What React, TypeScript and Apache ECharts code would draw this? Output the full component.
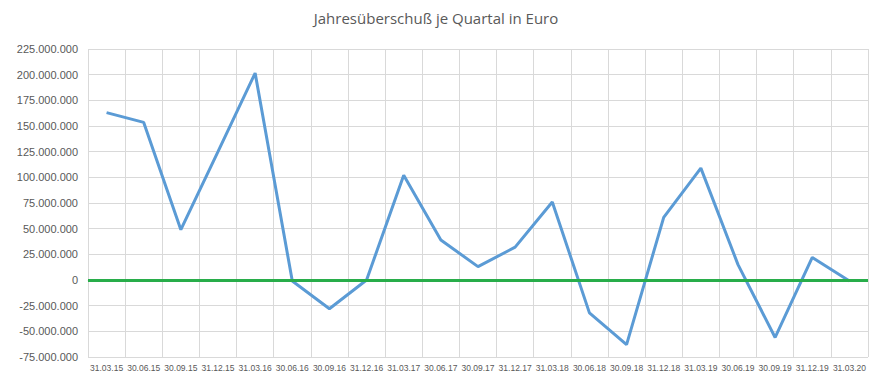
import React, { useEffect, useRef } from "react";
import * as echarts from "echarts";

const title = "Jahresüberschuß je Quartal in Euro";

const categories = [
  "31.03.15", "30.06.15", "30.09.15", "31.12.15", "31.03.16", "30.06.16", "30.09.16",
  "31.12.16", "31.03.17", "30.06.17", "30.09.17", "31.12.17", "31.03.18", "30.06.18",
  "30.09.18", "31.12.18", "31.03.19", "30.06.19", "30.09.19", "31.12.19", "31.03.20",
];

const values = [
  163000000, 153500000, 49000000, 125000000, 201500000, -1000000, -28000000,
  0, 102000000, 39000000, 13000000, 32000000, 76000000, -32000000,
  -63000000, 61000000, 109000000, 15000000, -56000000, 22000000, -1000000,
];

const yMin = -75000000;
const yMax = 225000000;
const yStep = 25000000;
const zeroLine = 0;

const fmt = (v: number) => {
  const neg = v < 0;
  const s = Math.abs(Math.round(v)).toString().replace(/\B(?=(\d{3})+(?!\d))/g, ".");
  return (neg ? "-" : "") + s;
};

export default function App() {
  const ref = useRef<HTMLDivElement>(null);
  useEffect(() => {
    if (!ref.current) return;
    const chart = echarts.init(ref.current, null, { renderer: "svg" });
    chart.setOption({
      animation: false,
      backgroundColor: "#ffffff",
      title: {
        text: title,
        left: "center",
        top: 5,
        textStyle: {
          fontFamily: "Open Sans",
          fontSize: 15,
          fontWeight: "normal",
          color: "#595959",
        },
      },
      grid: { left: 88, right: 4, top: 49, bottom: 23, containLabel: false },
      xAxis: {
        type: "category",
        data: categories,
        boundaryGap: true,
        axisLine: { show: true, lineStyle: { color: "#d9d9d9", width: 1 } },
        axisTick: { show: false },
        splitLine: { show: true, interval: 0, lineStyle: { color: "#d9d9d9", width: 1 } },
        axisLabel: {
          interval: 0,
          fontFamily: "Liberation Sans",
          fontSize: 8.5,
          color: "#595959",
          margin: 6,
          showMaxLabel: true,
        },
      },
      yAxis: {
        type: "value",
        min: yMin,
        max: yMax,
        interval: yStep,
        axisLine: { show: false },
        axisTick: { show: false },
        splitLine: { show: true, lineStyle: { color: "#d9d9d9", width: 1 } },
        axisLabel: {
          formatter: (v: number) => fmt(v),
          fontFamily: "Liberation Sans",
          fontSize: 11,
          color: "#595959",
          margin: 10,
        },
      },
      series: [
        {
          type: "line",
          data: values,
          symbol: "none",
          lineStyle: { color: "#5b9bd5", width: 3 },
          z: 3,
          markLine: {
            silent: true,
            symbol: "none",
            label: { show: false },
            lineStyle: { color: "#28ad4a", width: 3, type: "solid" },
            data: [{ yAxis: zeroLine }],
            z: 4,
          },
        },
      ],
    });
    return () => chart.dispose();
  }, []);
  return (
    <div
      ref={ref}
      style={{ position: "absolute", left: 0, top: 0, width: 872, height: 380 }}
    />
  );
}
